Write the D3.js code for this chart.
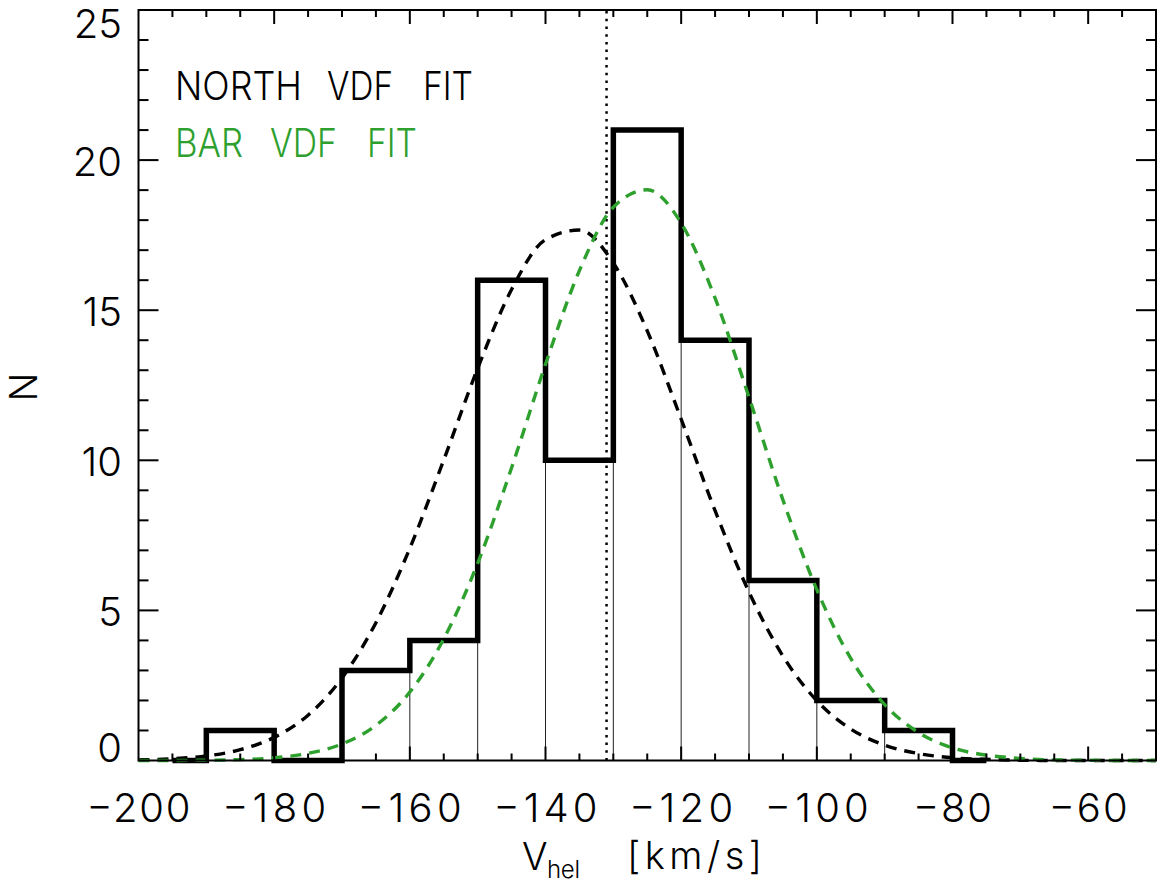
<!DOCTYPE html>
<html>
<head>
<meta charset="utf-8">
<script src="https://cdn.jsdelivr.net/npm/d3@7"></script>
<style>
  body { margin: 0; background: #fff; }
  text { font-family: "Inter", "Liberation Sans", sans-serif; font-weight: 300; }
</style>
</head>
<body>
<div id="chart"></div>
<script>
// histogram (bin centres, IDL psym=10 style)
var binCenters = [-195, -185, -175, -165, -155, -145, -135, -125, -115, -105, -95, -85, -75];
var binCounts  = [0, 1, 0, 3, 4, 16, 10, 21, 14, 6, 2, 1, 0];

// fit curves every 5 km/s
var fitX = [-200, -195, -190, -185, -180, -175, -170, -165, -160, -155, -150, -145, -140, -135, -130,
            -125, -120, -115, -110, -105, -100, -95, -90, -85, -80, -75, -70, -65, -60, -55, -50];
var northFit = [0.02, 0.06, 0.15, 0.36, 0.77, 1.51, 2.75, 4.59, 7.07, 10.01, 13.06, 15.69, 17.35, 17.67, 16.57,
                14.31, 11.37, 8.32, 5.61, 3.48, 1.99, 1.05, 0.51, 0.23, 0.09, 0.04, 0.01, 0, 0, 0, 0];
var barFit = [0, 0, 0.01, 0.03, 0.09, 0.24, 0.55, 1.17, 2.28, 4.05, 6.57, 9.75, 13.20, 16.32, 18.43,
              19.01, 17.90, 15.40, 12.10, 8.68, 5.69, 3.40, 1.86, 0.93, 0.42, 0.18, 0.07, 0.02, 0.01, 0, 0];

var vMarker = -131;
var xTicks = [-200, -180, -160, -140, -120, -100, -80, -60];
var yTicks = [0, 5, 10, 15, 20, 25];
var legendLabels = ["NORTH VDF FIT", "BAR VDF FIT"];

var green = "#2ea02e";
var W = 1158, H = 884;
var margin = {top: 10, right: 2, bottom: 123.5, left: 138.5};

var svg = d3.select("#chart").append("svg")
    .attr("width", W).attr("height", H);

var x = d3.scaleLinear().domain([-200, -50]).range([margin.left, W - margin.right]);
var y = d3.scaleLinear().domain([0, 25]).range([H - margin.bottom, margin.top]);

// thin bar edges up to the lower neighbour
var edges = [];
for (var i = 0; i < binCenters.length - 1; i++) {
    edges.push({x: (binCenters[i] + binCenters[i + 1]) / 2, h: Math.min(binCounts[i], binCounts[i + 1])});
}
svg.selectAll(".edge").data(edges.filter(function(d) { return d.h > 0; }))
    .enter().append("line")
    .attr("class", "edge")
    .attr("x1", function(d) { return x(d.x); })
    .attr("x2", function(d) { return x(d.x); })
    .attr("y1", y(0))
    .attr("y2", function(d) { return y(d.h); })
    .attr("stroke", "#222")
    .attr("stroke-width", 1);

// dotted marker
svg.append("line")
    .attr("x1", x(vMarker)).attr("x2", x(vMarker))
    .attr("y1", y(0)).attr("y2", y(25))
    .attr("stroke", "#000")
    .attr("stroke-width", 2.5)
    .attr("stroke-dasharray", "2.5 5.2");

// histogram
var step = d3.line().curve(d3.curveStep)
    .x(function(d) { return x(d[0]); })
    .y(function(d) { return y(d[1]); });
svg.append("path")
    .datum(d3.zip(binCenters, binCounts))
    .attr("d", step)
    .attr("fill", "none")
    .attr("stroke", "#000")
    .attr("stroke-width", 5.5)
    .attr("stroke-linejoin", "miter");

// fits
var curve = d3.line().curve(d3.curveMonotoneX)
    .x(function(d) { return x(d[0]); })
    .y(function(d) { return y(d[1]); });
svg.append("path")
    .datum(d3.zip(fitX, northFit))
    .attr("d", curve)
    .attr("fill", "none")
    .attr("stroke", "#000")
    .attr("stroke-width", 3.4)
    .attr("stroke-dasharray", "11 8");
svg.append("path")
    .datum(d3.zip(fitX, barFit))
    .attr("d", curve)
    .attr("fill", "none")
    .attr("stroke", green)
    .attr("stroke-width", 3.4)
    .attr("stroke-dasharray", "11 8");

// frame
svg.append("rect")
    .attr("x", x(-200)).attr("y", y(25))
    .attr("width", x(-50) - x(-200)).attr("height", y(0) - y(25))
    .attr("fill", "none").attr("stroke", "#000").attr("stroke-width", 2);

// ticks on all four sides
var xMinor = d3.range(-195, -50, 5);
var yMinor = d3.range(1, 25, 1);
svg.selectAll(".xtick").data(xMinor).enter().append("g").each(function(v) {
    var major = v % 20 === 0;
    var len = major ? 14 : 7;
    var g = d3.select(this);
    g.append("line").attr("x1", x(v)).attr("x2", x(v)).attr("y1", y(0)).attr("y2", y(0) - len)
        .attr("stroke", "#000").attr("stroke-width", 2);
    g.append("line").attr("x1", x(v)).attr("x2", x(v)).attr("y1", y(25)).attr("y2", y(25) + len)
        .attr("stroke", "#000").attr("stroke-width", 2);
});
svg.selectAll(".ytick").data(yMinor).enter().append("g").each(function(v) {
    var major = v % 5 === 0;
    var len = major ? 20 : 10;
    var g = d3.select(this);
    g.append("line").attr("x1", x(-200)).attr("x2", x(-200) + len).attr("y1", y(v)).attr("y2", y(v))
        .attr("stroke", "#000").attr("stroke-width", 2);
    g.append("line").attr("x1", x(-50)).attr("x2", x(-50) - len).attr("y1", y(v)).attr("y2", y(v))
        .attr("stroke", "#000").attr("stroke-width", 2);
});

// tick labels
svg.selectAll(".xlab").data(xTicks).enter().append("text")
    .attr("x", function(d) { return x(d); })
    .attr("y", 822)
    .attr("text-anchor", "middle")
    .attr("font-size", 40)
    .attr("textLength", function(d) { return d <= -100 ? 104 : 79; })
    .attr("lengthAdjust", "spacing")
    .text(function(d) { return "\u2212" + Math.abs(d); });

svg.selectAll(".ylab").data(yTicks).enter().append("text")
    .attr("x", 122)
    .attr("y", function(d) {
        if (d === 0) return y(d) + 1;
        if (d === 25) return y(d) + 28;
        return y(d) + 16;
    })
    .attr("text-anchor", "end")
    .attr("font-size", 40)
    .text(function(d) { return d; });

// axis titles
svg.append("text").attr("x", 522).attr("y", 870).attr("font-size", 38).text("V");
svg.append("text").attr("x", 547).attr("y", 878).attr("font-size", 24)
    .attr("textLength", 33).attr("lengthAdjust", "spacing").text("hel");
svg.append("text").attr("x", 627).attr("y", 869).attr("font-size", 38)
    .attr("textLength", 135).attr("lengthAdjust", "spacing").text("[km/s]");

svg.append("text")
    .attr("transform", "translate(37,387) rotate(-90)")
    .attr("text-anchor", "middle")
    .attr("font-size", 38)
    .text("N");

// legend, one text per word to keep the wide word gaps
var wordPos = [[[175, 127], [327, 66], [423, 50]], [[175, 68], [270, 67], [367, 50]]];
legendLabels.forEach(function(label, i) {
    label.split(" ").forEach(function(word, j) {
        svg.append("text")
            .attr("x", wordPos[i][j][0])
            .attr("y", 100 + i * 57)
            .attr("font-size", 39)
            .attr("fill", i === 0 ? "#000" : green)
            .attr("textLength", wordPos[i][j][1])
            .attr("lengthAdjust", "spacingAndGlyphs")
            .text(word);
    });
});
</script>
</body>
</html>
